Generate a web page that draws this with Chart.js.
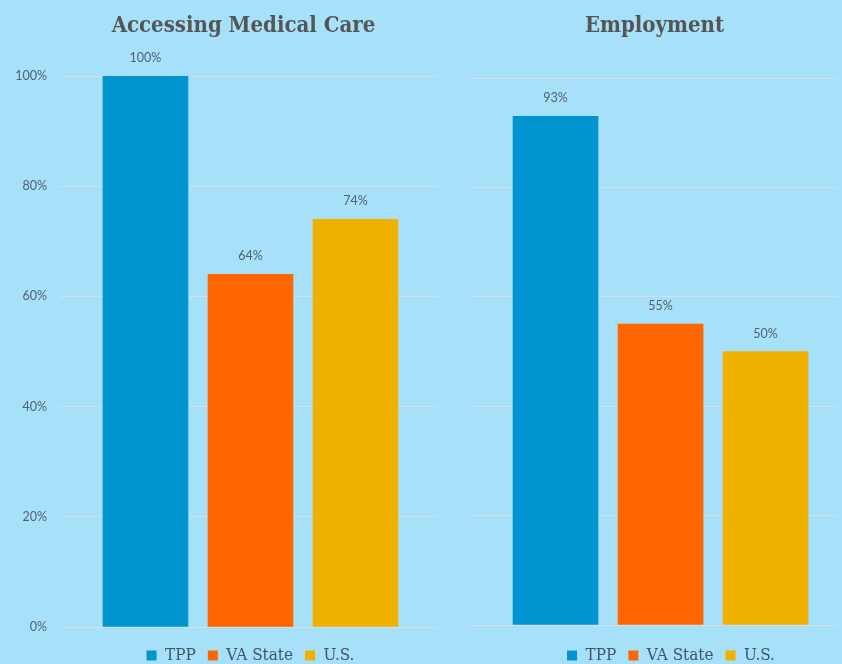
<!DOCTYPE html>
<html><head><meta charset="utf-8">
<script src="https://cdn.jsdelivr.net/npm/chart.js@4/dist/chart.umd.min.js"></script>
<style>
html,body{margin:0;padding:0;background:#A7E1F9;width:842px;height:664px;overflow:hidden;position:relative;}
canvas{position:absolute;top:0;}
#c1{left:0;} #c2{left:445px;}
</style></head><body>
<canvas id="c1" width="445" height="674"></canvas>
<canvas id="c2" width="397" height="674"></canvas>
<script>
const seriesNames = ['TPP', 'VA State', 'U.S.'];
const seriesColors = ['#0095D1', '#FF6600', '#F0B000'];
const medicalCare = [100, 64, 74];
const employment = [93, 55, 50];
const yTickValues = [0, 20, 40, 60, 80, 100];

const valueLabels = {
  id: 'valueLabels',
  afterDatasetsDraw(chart) {
    const ctx = chart.ctx;
    ctx.save();
    ctx.font = '12.5px Lato, "Liberation Sans", sans-serif';
    ctx.fillStyle = '#526074';
    ctx.textAlign = 'center';
    ctx.textBaseline = 'middle';
    chart.data.datasets.forEach((ds, i) => {
      chart.getDatasetMeta(i).data.forEach((el, j) => {
        ctx.fillText(ds.data[j].y + '%', el.x, el.y - 18);
      });
    });
    ctx.restore();
  }
};

const shiftBoxes = {
  id: 'shiftBoxes',
  afterLayout(chart, args, opts) {
    if (chart.legend && opts.legend) { chart.legend.left += opts.legend; chart.legend.right += opts.legend; }
    if (chart.titleBlock && opts.title) { chart.titleBlock.left += opts.title; chart.titleBlock.right += opts.title; }
  }
};

const titleFont = '"DejaVu Serif Condensed", "DejaVu Serif", serif';

function makeChart(id, title, values, cfg) {
  return new Chart(document.getElementById(id), {
    type: 'bar',
    data: {
      datasets: seriesNames.map((name, i) => ({
        label: name,
        data: [{ x: i, y: values[i] }],
        backgroundColor: seriesColors[i],
        borderWidth: 0,
        barThickness: 85,
        grouped: false
      }))
    },
    options: {
      responsive: false,
      animation: false,
      events: [],
      layout: { padding: { left: cfg.padLeft, right: cfg.padRight, top: 0, bottom: 0 } },
      scales: {
        x: {
          type: 'linear',
          min: cfg.xMin, max: cfg.xMax,
          offset: false,
          bounds: 'data',
          grace: 0,
          display: true,
          grid: { display: false, offset: false },
          border: { display: false },
          ticks: { display: false },
          afterBuildTicks: s => { s.ticks = [{ value: cfg.xMin }, { value: cfg.xMax }]; s.min = cfg.xMin; s.max = cfg.xMax; },
          afterFit: s => { s.height = cfg.xHeight; }
        },
        y: {
          min: 0, max: 100,
          afterBuildTicks: s => { s.ticks = yTickValues.map(v => ({ value: v })); },
          grid: { color: '#D6DEE6', lineWidth: 1, drawTicks: false },
          border: { display: false },
          ticks: {
            display: cfg.showTicks,
            padding: 13,
            color: '#526074',
            font: { family: 'Lato, "Liberation Sans", sans-serif', size: 12.5 },
            callback: v => v + '%'
          },
          afterFit: s => { s.width = cfg.yWidth; }
        }
      },
      plugins: {
        tooltip: { enabled: false },
        title: {
          display: true,
          text: title,
          fullSize: false,
          color: '#555555',
          font: { family: titleFont, size: 22, weight: 'bold' },
          padding: { top: 13, bottom: cfg.titleBottom }
        },
        legend: {
          display: true,
          position: 'bottom',
          fullSize: false,
          labels: {
            boxWidth: 10, boxHeight: 10, padding: 12,
            color: '#44546A',
            font: { family: titleFont, size: 17 }
          }
        },
        shiftBoxes: { legend: cfg.legendShift, title: cfg.titleShift }
      }
    },
    plugins: [valueLabels, shiftBoxes]
  });
}

makeChart('c1', 'Accessing Medical Care', medicalCare, {
  padLeft: 16, padRight: 7, yWidth: 44, showTicks: true,
  xMin: -0.814, xMax: 2.786, xHeight: 8, titleBottom: 36.6,
  legendShift: 1.5, titleShift: -5.5
});
makeChart('c2', 'Employment', employment, {
  padLeft: 0, padRight: 4, yWidth: 26, showTicks: false,
  xMin: -0.805, xMax: 2.690, xHeight: 10, titleBottom: 38.6,
  legendShift: 16.5, titleShift: 0
});
</script>
</body></html>
